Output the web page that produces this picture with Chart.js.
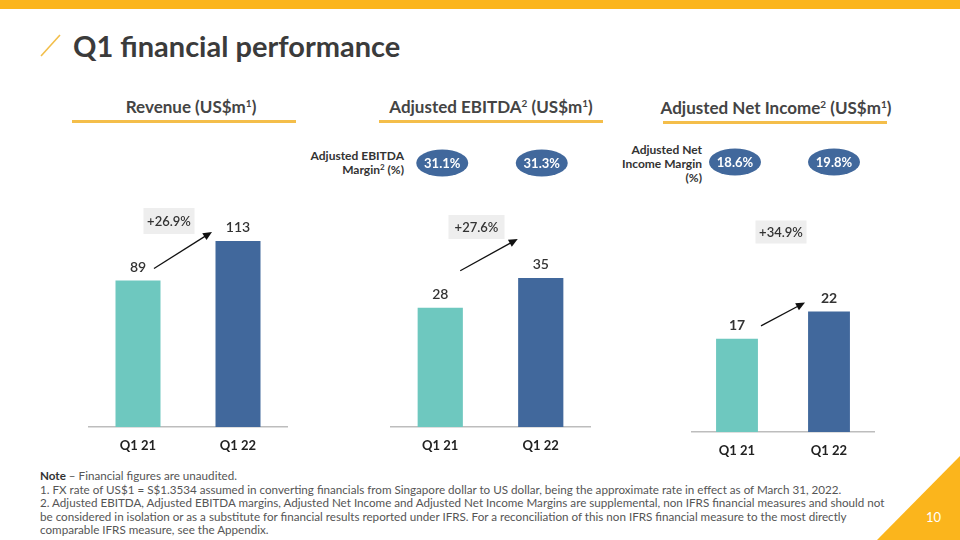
<!DOCTYPE html>
<html>
<head>
<meta charset="utf-8">
<script src="https://cdn.jsdelivr.net/npm/chart.js@4.4.0/dist/chart.umd.min.js"></script>
<style>
  body { margin: 0; }
  .page { position: relative; width: 960px; height: 540px; background: #fff; overflow: hidden; font-family: 'Lato', sans-serif; color: #333; }
  .topbar { position: absolute; left: 0; top: 0; width: 960px; height: 9px; background: #FBB51C; }
  .title { position: absolute; left: 73px; top: 28px; font-size: 29px; font-weight: 700; color: #3b3b3b; white-space: nowrap; }
  .sec { position: absolute; top: 96px; font-size: 17px; font-weight: 700; color: #444; white-space: nowrap; transform: translateX(-50%); }
  .sec sup { font-size: 10px; vertical-align: 6px; line-height: 0; }
  .uline { position: absolute; height: 3px; background: #F4BE4A; }
  .mlabel { position: absolute; font-size: 12px; font-weight: 700; color: #333; text-align: right; line-height: 14px; white-space: nowrap; }
  .mlabel sup { font-size: 8px; vertical-align: 4px; line-height: 0; }
  canvas { position: absolute; }
  .note { position: absolute; left: 40px; top: 469px; font-size: 11.65px; line-height: 13.6px; color: #555; white-space: nowrap; }
  .note b { color: #333; }
  .pnum { position: absolute; left: 926px; top: 509px; font-size: 13px; color: #fff; }
</style>
</head>
<body>
<div class="page">
  <div class="topbar"></div>
  <svg width="960" height="540" style="position:absolute;left:0;top:0">
    <line x1="41" y1="56" x2="60" y2="35" stroke="#F2BE4A" stroke-width="1.6"/>
    <polygon points="960,456 960,540 877,540" fill="#FBB51C"/>
  </svg>
  <div class="title">Q1 financial performance</div>

  <div class="sec" style="left:191px">Revenue (US$m<sup>1</sup>)</div>
  <div class="sec" style="left:491px">Adjusted EBITDA<sup>2</sup> (US$m<sup>1</sup>)</div>
  <div class="sec" style="left:776px;top:97px">Adjusted Net Income<sup>2</sup> (US$m<sup>1</sup>)</div>
  <div class="uline" style="left:72px;top:120px;width:224px"></div>
  <div class="uline" style="left:379px;top:120px;width:224px"></div>
  <div class="uline" style="left:663px;top:121px;width:224px"></div>

  <div class="mlabel" style="right:556px;top:149px">Adjusted EBITDA<br>Margin<sup>2</sup> (%)</div>
  <div class="mlabel" style="right:258px;top:143px">Adjusted Net<br>Income Margin<br>(%)</div>

  <canvas id="c1" width="200" height="317" style="left:88px;top:140px"></canvas>
  <canvas id="c2" width="201" height="317" style="left:390px;top:140px"></canvas>
  <canvas id="c3" width="184" height="322" style="left:691px;top:140px"></canvas>

  <div class="note">
    <b>Note</b> – Financial figures are unaudited.<br>
    1. FX rate of US$1 = S$1.3534 assumed in converting financials from Singapore dollar to US dollar, being the approximate rate in effect as of March 31, 2022.<br>
    2. Adjusted EBITDA, Adjusted EBITDA margins, Adjusted Net Income and Adjusted Net Income Margins are supplemental, non IFRS financial measures and should not<br>
    be considered in isolation or as a substitute for financial results reported under IFRS. For a reconciliation of this non IFRS financial measure to the most directly<br>
    comparable IFRS measure, see the Appendix.
  </div>
  <div class="pnum">10</div>
</div>

<script>
const categories = ['Q1 21', 'Q1 22'];
const revenue = [89, 113];
const ebitda = [28, 35];
const netIncome = [17, 22];
const ebitdaMargin = ['31.1%', '31.3%'];
const netMargin = ['18.6%', '19.8%'];
const growthLabels = ['+26.9%', '+27.6%', '+34.9%'];

const teal = '#6EC8BF';
const blue = '#41689C';

// value labels, growth box, arrow and margin ovals
const extras = {
  id: 'extras',
  afterDatasetsDraw(chart, args, o) {
    const ctx = chart.ctx;
    const bars = chart.getDatasetMeta(0).data;
    const ys = chart.scales.y;
    const vals = chart.data.datasets[0].data;
    ctx.save();
    ctx.fillStyle = '#333';
    ctx.font = o.valueFont;
    ctx.textAlign = 'center';
    ctx.textBaseline = 'middle';
    const lab = bars.map((b, i) => ({ x: b.x, y: ys.getPixelForValue(vals[i]) - 13 }));
    lab.forEach((p, i) => ctx.fillText(vals[i], p.x, p.y));

    // arrow
    const x0 = lab[0].x + o.arrow.sx, y0 = lab[0].y + o.arrow.sy;
    const x1 = lab[1].x + o.arrow.ex, y1 = lab[1].y + o.arrow.ey;
    const ang = Math.atan2(y1 - y0, x1 - x0);
    ctx.strokeStyle = '#111';
    ctx.fillStyle = '#111';
    ctx.lineWidth = 1.3;
    ctx.beginPath();
    ctx.moveTo(x0, y0);
    ctx.lineTo(x1 - 7 * Math.cos(ang), y1 - 7 * Math.sin(ang));
    ctx.stroke();
    ctx.beginPath();
    ctx.moveTo(x1, y1);
    ctx.lineTo(x1 - 9 * Math.cos(ang) + 4 * Math.sin(ang), y1 - 9 * Math.sin(ang) - 4 * Math.cos(ang));
    ctx.lineTo(x1 - 9 * Math.cos(ang) - 4 * Math.sin(ang), y1 - 9 * Math.sin(ang) + 4 * Math.cos(ang));
    ctx.closePath();
    ctx.fill();

    // growth box
    const gx = (bars[0].x + bars[1].x) / 2 + o.growth.dx;
    const gy = o.growth.y;
    ctx.fillStyle = '#EEEEEE';
    ctx.fillRect(gx - o.growth.w / 2, gy - o.growth.h / 2, o.growth.w, o.growth.h);
    ctx.fillStyle = '#333';
    ctx.font = '600 13px Lato';
    ctx.fillText(o.growth.text, gx, gy + 1);

    // margin ovals
    if (o.margins) {
      bars.forEach((b, i) => {
        ctx.fillStyle = blue;
        ctx.beginPath();
        ctx.ellipse(b.x + o.ovalDx[i], o.ovalY, 26, 13.5, 0, 0, Math.PI * 2);
        ctx.fill();
        ctx.fillStyle = '#fff';
        ctx.font = '700 13px Lato';
        ctx.fillText(o.margins[i], b.x + o.ovalDx[i], o.ovalY + 1);
      });
    }
    ctx.restore();
  }
};

function makeChart(id, values, max, barPct, extraOpts) {
  return new Chart(document.getElementById(id), {
    type: 'bar',
    data: {
      labels: categories,
      datasets: [{
        data: values,
        backgroundColor: [teal, blue],
        categoryPercentage: 1,
        barPercentage: barPct
      }]
    },
    options: {
      responsive: false,
      animation: false,
      layout: { padding: { top: 40, left: 0, right: 0, bottom: 0 } },
      plugins: {
        legend: { display: false },
        tooltip: { enabled: false },
        extras: extraOpts
      },
      scales: {
        x: {
          grid: { display: false, drawTicks: false },
          border: { display: true, color: '#BDBDBD', width: 1.5 },
          ticks: { color: '#222', font: { family: 'Lato', size: 13, weight: 'bold' }, padding: 11 },
          afterFit(scale) { scale.height = 30; }
        },
        y: { display: false, min: 0, max: max }
      }
    },
    plugins: [extras]
  });
}

makeChart('c1', revenue, 150, 0.45, {
  valueFont: '600 14px Lato',
  arrow: { sx: 16, sy: 1, ex: -26, ey: 4 },
  growth: { text: growthLabels[0], dx: -19, y: 81, w: 51, h: 26 }
});
makeChart('c2', ebitda, 58, 0.45, {
  valueFont: '600 14px Lato',
  arrow: { sx: 20, sy: -24, ex: -23, ey: -26 },
  growth: { text: growthLabels[1], dx: -14, y: 87, w: 56, h: 24 },
  margins: ebitdaMargin, ovalDx: [2, 1], ovalY: 23
});
makeChart('c3', netIncome, 46, 0.455, {
  valueFont: '700 14px Lato',
  arrow: { sx: 24, sy: 0, ex: -24, ey: 4 },
  growth: { text: growthLabels[2], dx: -2, y: 92, w: 51, h: 23 },
  margins: netMargin, ovalDx: [-2, 5], ovalY: 22
});
</script>
</body>
</html>
